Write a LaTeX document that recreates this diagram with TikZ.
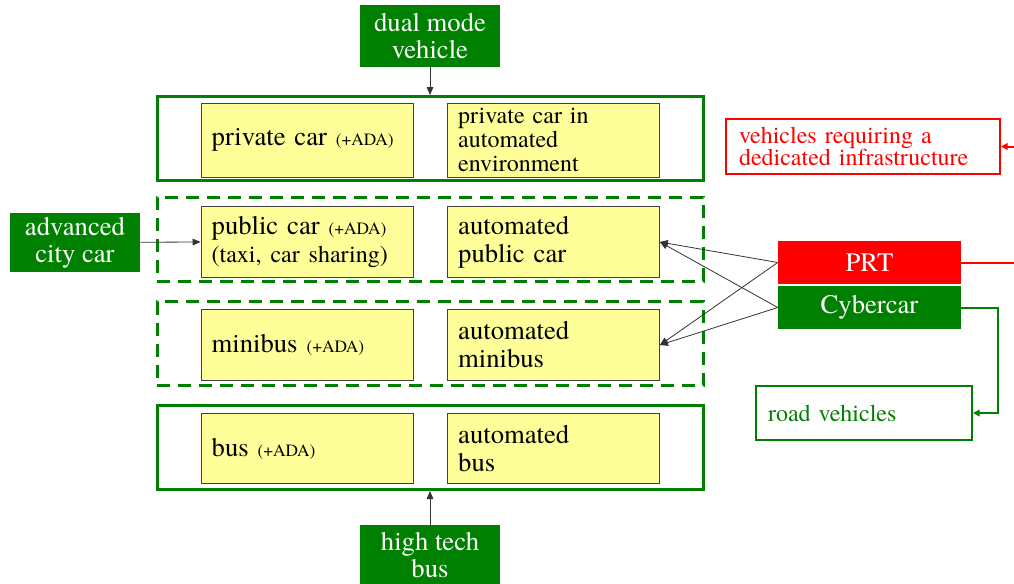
\documentclass[tikz,border=0pt]{standalone}
\usepackage{fontspec}
\setmainfont{TeX Gyre Termes}
\usepackage{tikz}
\usetikzlibrary{arrows.meta}
\definecolor{cityGreen}{RGB}{0, 128, 0}
\definecolor{cityRed}{RGB}{255, 0, 0}
\definecolor{paleYellow}{RGB}{255, 255, 153}
\newcommand{\ada}{{\fontsize{13}{13}\selectfont(+ADA)}}

\begin{document}
\begin{tikzpicture}[x=0.75pt, y=-0.75pt,
  rowbox/.style={draw=cityGreen, line width=2.25pt, minimum width=409.5pt, minimum height=63pt},
  dashrow/.style={rowbox, dash pattern=on 9.75pt off 6pt},
  modebox/.style={draw=black!75, fill=paleYellow, line width=0.6pt, minimum width=159pt, minimum height=53pt, text width=143pt, inner xsep=8pt, align=left, font=\fontsize{20}{21}\selectfont},
  concept/.style={fill=cityGreen, text=white, align=center, font=\fontsize{20}{20.5}\selectfont, inner sep=1pt},
  notebox/.style={fill=white, line width=1.5pt, align=left, inner xsep=9pt, font=\fontsize{18}{17}\selectfont},
  link/.style={draw=black!80, line width=0.6pt, -{Triangle[length=6pt, width=5pt]}},
  greenlink/.style={draw=cityGreen, line width=1.5pt, -{Triangle[length=5pt, width=5pt]}},
  redlink/.style={draw=cityRed, line width=1.5pt, -{Triangle[length=5pt, width=5pt]}}]
\useasboundingbox (0,0) rectangle (1014,583);

% rows of vehicle types
\node[rowbox] (rowprivate) at (430,138.5) {};
\node[dashrow] (rowpublic) at (430,239) {};
\node[dashrow] (rowmini) at (430,343.5) {};
\node[rowbox] (rowbus) at (430,447.5) {};

% manual and automated versions
\node[modebox, minimum height=55.5pt] (privcar) at (307,140) {private car \ada};
\node[modebox, minimum height=55.5pt, inner ysep=0pt, font=\fontsize{18}{18}\selectfont] (privauto) at (553.5,140) {private car in\\automated\\environment};
\node[modebox] (pubcar) at (307,242) {public car \ada\\{\fontsize{18}{18}\selectfont(taxi, car sharing)}};
\node[modebox] (pubauto) at (553.5,242) {automated\\public car};
\node[modebox] (minicar) at (307,345) {minibus \ada};
\node[modebox] (miniauto) at (553.5,345) {automated\\minibus};
\node[modebox] (buscar) at (307,448.5) {bus \ada};
\node[modebox] (busauto) at (553.5,448.5) {automated\\bus};

% concepts feeding the rows
\node[concept, minimum width=105pt, minimum height=46.5pt] (dualmode) at (430,36) {dual mode\\vehicle};
\node[concept, minimum width=97.5pt, minimum height=44.25pt] (citycar) at (75,242.5) {advanced\\city car};
\node[concept, minimum width=105pt, minimum height=45pt] (hightech) at (430,555) {high tech\\bus};
\node[concept, fill=cityRed, minimum width=137.25pt, minimum height=32.25pt] (prt) at (869.5,262.5) {PRT};
\node[concept, minimum width=137.25pt, minimum height=32.25pt] (cyber) at (869.5,307.5) {Cybercar};

% infrastructure notes
\node[notebox, draw=cityRed, text=cityRed, minimum width=205.5pt, minimum height=41.25pt, text width=186pt] (infra) at (863,146.5) {vehicles requiring a\\dedicated infrastructure};
\node[notebox, draw=cityGreen, text=cityGreen, minimum width=162pt, minimum height=40.5pt, text width=144pt] (road) at (864,413) {road vehicles};

% connectors
\draw[link] (dualmode) -- (rowprivate.north);
\draw[link] (hightech) -- (rowbus.south);
\draw[link] (citycar) -- (pubcar.west);
\draw[link] (prt.west) -- (pubauto.east);
\draw[link] (prt.west) -- (miniauto.east);
\draw[link] (cyber.west) -- (pubauto.east);
\draw[link] (cyber.west) -- (miniauto.east);
\draw[redlink] (prt.east) -- ++(80,0) |- (infra.east);
\draw[greenlink] (cyber.east) -- ++(37,0) |- (road.east);
\end{tikzpicture}
\end{document}
